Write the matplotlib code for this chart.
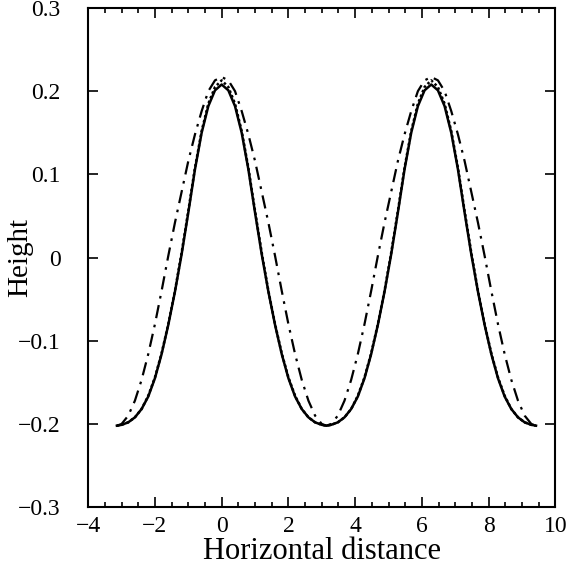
import matplotlib
matplotlib.use("Agg")
import matplotlib.pyplot as plt
from matplotlib.ticker import MultipleLocator

# horizontal positions (shared by all three profiles)
x = [-3.14, -3.0, -2.8, -2.6, -2.4, -2.2, -2.0, -1.8, -1.6, -1.4, -1.2, -1.0, -0.8, -0.6, -0.4, -0.2, 0.0,
     0.2, 0.4, 0.6, 0.8, 1.0, 1.2, 1.4, 1.6, 1.8, 2.0, 2.2, 2.4, 2.6, 2.8, 3.0, 3.14,
     3.28, 3.48, 3.68, 3.88, 4.08, 4.28, 4.48, 4.68, 4.88, 5.08, 5.28, 5.48, 5.68, 5.88, 6.08, 6.28,
     6.48, 6.68, 6.88, 7.08, 7.28, 7.48, 7.68, 7.88, 8.08, 8.28, 8.48, 8.68, 8.88, 9.08, 9.28, 9.42]

height_solid = [-0.202, -0.201, -0.198, -0.192, -0.182, -0.167, -0.145, -0.116, -0.081, -0.041, 0.004, 0.054, 0.106, 0.150, 0.182, 0.201, 0.208,
                0.201, 0.182, 0.150, 0.106, 0.054, 0.004, -0.041, -0.081, -0.116, -0.145, -0.167, -0.182, -0.192, -0.198, -0.201, -0.202,
                -0.201, -0.198, -0.192, -0.182, -0.167, -0.145, -0.116, -0.081, -0.041, 0.004, 0.054, 0.106, 0.150, 0.182, 0.201, 0.208,
                0.201, 0.182, 0.150, 0.106, 0.054, 0.004, -0.041, -0.081, -0.116, -0.145, -0.167, -0.182, -0.192, -0.198, -0.201, -0.202]

height_dotted = [-0.202, -0.201, -0.198, -0.192, -0.182, -0.166, -0.144, -0.115, -0.080, -0.040, 0.006, 0.056, 0.108, 0.152, 0.185, 0.205, 0.213,
                 0.205, 0.185, 0.152, 0.108, 0.056, 0.006, -0.040, -0.080, -0.115, -0.144, -0.166, -0.182, -0.192, -0.198, -0.201, -0.202,
                 -0.201, -0.198, -0.192, -0.182, -0.166, -0.144, -0.115, -0.080, -0.040, 0.006, 0.056, 0.108, 0.152, 0.185, 0.205, 0.213,
                 0.205, 0.185, 0.152, 0.108, 0.056, 0.006, -0.040, -0.080, -0.115, -0.144, -0.166, -0.182, -0.192, -0.198, -0.201, -0.202]

height_dashdot = [-0.202, -0.200, -0.190, -0.172, -0.147, -0.116, -0.080, -0.040, 0.002, 0.042, 0.079, 0.116, 0.148, 0.176, 0.200, 0.213, 0.217,
                  0.213, 0.200, 0.176, 0.148, 0.116, 0.079, 0.042, 0.002, -0.040, -0.080, -0.116, -0.147, -0.172, -0.190, -0.200, -0.202,
                  -0.200, -0.190, -0.172, -0.147, -0.116, -0.080, -0.040, 0.002, 0.042, 0.079, 0.116, 0.148, 0.176, 0.200, 0.213, 0.217,
                  0.213, 0.200, 0.176, 0.148, 0.116, 0.079, 0.042, 0.002, -0.040, -0.080, -0.116, -0.147, -0.172, -0.190, -0.200, -0.202]

plt.rcParams["font.family"] = ["Liberation Serif", "DejaVu Serif"]

fig = plt.figure(figsize=(5.84, 5.68), dpi=100)
ax = fig.add_axes([0.151, 0.107, 0.800, 0.879])

ax.plot(x, height_dashdot, color="black", linewidth=1.6, linestyle=(0, (6, 3, 1.2, 3)))
ax.plot(x, height_dotted, color="black", linewidth=1.8, linestyle=(0, (1, 1)))
ax.plot(x, height_solid, color="black", linewidth=1.8)

ax.set_xlim(-4, 10)
ax.set_ylim(-0.3, 0.3)
ax.xaxis.set_major_locator(MultipleLocator(2))
ax.xaxis.set_minor_locator(MultipleLocator(0.5))
ax.set_xticks([-4, -2, 0, 2, 4, 6, 8, 10])
ax.set_xticklabels(["\u22124", "\u22122", "0", "2", "4", "6", "8", "10"])
ax.set_yticks([-0.3, -0.2, -0.1, 0, 0.1, 0.2, 0.3])
ax.set_yticklabels(["\u22120.3", "\u22120.2", "\u22120.1", "0", "0.1", "0.2", "0.3"])

ax.tick_params(which="both", direction="in", top=True, right=True, labelsize=17, width=1.2)
ax.tick_params(which="major", length=7)
ax.tick_params(which="minor", length=3.5)
ax.tick_params(axis="y", pad=20)
ax.tick_params(axis="x", pad=6)
for s in ax.spines.values():
    s.set_linewidth(1.5)

ax.set_xlabel("Horizontal distance", fontsize=22, labelpad=0)
ax.set_ylabel("Height", fontsize=21)
ax.yaxis.set_label_coords(-0.118, 0.5)

plt.savefig("out.png", dpi=100)
plt.close()
